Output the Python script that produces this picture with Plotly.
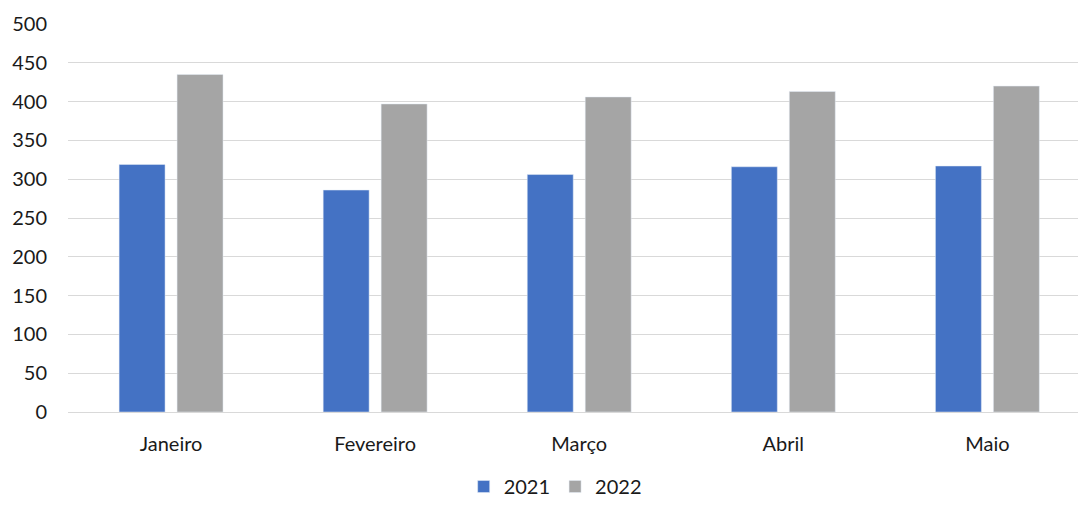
import plotly.graph_objects as go

months = ["Janeiro", "Fevereiro", "Março", "Abril", "Maio"]
series_2021 = [319, 286, 306, 316, 317]
series_2022 = [435, 397, 406, 413, 420]
y_ticks = [0, 50, 100, 150, 200, 250, 300, 350, 400, 450, 500]

font = dict(family="Lato, 'Open Sans', sans-serif", size=20, color="#1a1a1a")

fig = go.Figure()
fig.add_trace(go.Bar(x=months, y=series_2021, name="2021", marker_color="#4472C4"))
fig.add_trace(go.Bar(x=months, y=series_2022, name="2022", marker_color="#A5A5A5"))

fig.update_layout(
    width=1078, height=506,
    margin=dict(l=68, r=0, t=24, b=94, autoexpand=False),
    paper_bgcolor="white", plot_bgcolor="white",
    barmode="group", bargap=0.432, bargroupgap=0.207,
    font=font,
    legend=dict(orientation="h", x=0.515, xref="container", xanchor="center",
                y=-0.008, yref="container", yanchor="bottom",
                font=font, traceorder="normal", itemwidth=30),
    showlegend=True,
)
fig.update_yaxes(range=[0, 500], tickvals=y_ticks, showgrid=True, gridcolor="#D9D9D9",
                 gridwidth=1.3, zeroline=False, showline=False, ticks="", ticklabelstandoff=20)
fig.update_xaxes(range=[-0.505, 4.444], showline=True, linecolor="#D9D9D9", linewidth=1.3,
                 ticks="", ticklabelstandoff=14)

fig.write_html("out.html")
